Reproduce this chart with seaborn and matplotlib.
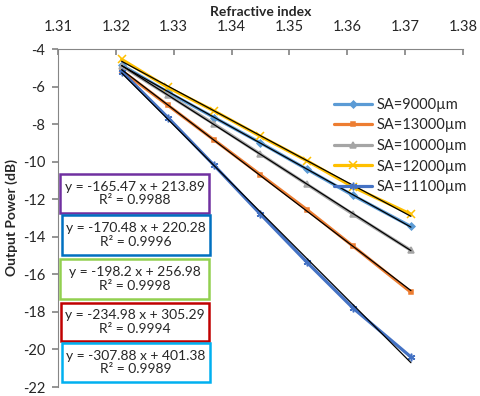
import numpy as np
import pandas as pd
import seaborn as sns
import matplotlib.pyplot as plt
from matplotlib.patches import Rectangle

# refractive index of the samples
ri = [1.321, 1.329, 1.337, 1.345, 1.353, 1.361, 1.371]

# output power (dB) per sensing area
sa_9000 = [-4.85, -6.3, -7.65, -9.0, -10.4, -11.8, -13.45]
sa_13000 = [-5.15, -7.0, -8.85, -10.7, -12.55, -14.5, -16.95]
sa_10000 = [-4.9, -6.45, -8.0, -9.6, -11.2, -12.8, -14.72]
sa_12000 = [-4.55, -6.05, -7.3, -8.65, -9.95, -11.35, -12.8]
sa_11100 = [-5.2, -7.65, -10.2, -12.8, -15.35, -17.8, -20.4]

labels = ["SA=9000µm", "SA=13000µm", "SA=10000µm", "SA=12000µm", "SA=11100µm"]
series = [sa_9000, sa_13000, sa_10000, sa_12000, sa_11100]
colors = ["#5B9BD5", "#ED7D31", "#A5A5A5", "#FFC000", "#4472C4"]
markers = ["D", "s", "^", "x", (6, 2, 0)]
msizes = [3.5, 3.5, 4.5, 6, 5.5]

# trendline labels as printed in the chart
eq_text = ["y = -165.47 x + 213.89\nR² = 0.9988",
           "y = -170.48 x + 220.28\nR² = 0.9996",
           "y = -198.2 x + 256.98\nR² = 0.9998",
           "y = -234.98 x + 305.29\nR² = 0.9994",
           "y = -307.88 x + 401.38\nR² = 0.9989"]
eq_colors = ["#7030A0", "#0070C0", "#92D050", "#C00000", "#00B0F0"]
# box extents in pixels from the top-left corner (x0, x1, y0, y1)
eq_boxes = [(60, 209, 174, 213), (62, 210, 215, 255), (60, 209, 259, 299),
            (61, 209, 303, 341), (62, 210, 343, 382)]

df = pd.DataFrame({"ri": np.tile(ri, len(labels)),
                   "power": np.concatenate(series),
                   "sa": np.repeat(labels, len(ri))})

sns.set_theme(style="white")
plt.rcParams["font.family"] = ["Lato", "DejaVu Sans"]
plt.rcParams["axes.unicode_minus"] = False

W, H = 480, 396
fig = plt.figure(figsize=(W / 100, H / 100), dpi=100)
ax = fig.add_axes([58 / W, 1 - 387 / H, (463 - 58) / W, (387 - 49) / H])

for lab, c, m, ms in zip(labels, colors, markers, msizes):
    sub = df[df["sa"] == lab]
    sns.lineplot(data=sub, x="ri", y="power", color=c, marker=m, markersize=ms,
                 markeredgecolor=c, markeredgewidth=1.1, linewidth=2.3,
                 label=lab, ax=ax, sort=False)

for lab in labels:
    sub = df[df["sa"] == lab]
    sns.regplot(data=sub, x="ri", y="power", scatter=False, ci=None,
                color="black", line_kws={"linewidth": 0.9}, ax=ax)

ax.set_xlim(1.31, 1.38)
ax.set_ylim(-22, -4)
ax.set_xticks(np.arange(1.31, 1.3801, 0.01))
ax.set_xticklabels([f"{v:.2f}" for v in np.arange(1.31, 1.3801, 0.01)])
ax.set_yticks(np.arange(-22, -3, 2))
ax.xaxis.tick_top()
ax.xaxis.set_label_position("top")
ax.set_xlabel("Refractive index", fontsize=10, fontweight="bold", labelpad=3)
ax.set_ylabel("Output Power (dB)", fontsize=10, fontweight="bold", labelpad=4)
ax.tick_params(axis="x", direction="in", length=4, labelsize=10.5, pad=11,
               color="#868686", top=True)
ax.tick_params(axis="y", direction="out", length=4, labelsize=10.5, pad=5,
               color="#868686", left=True)
for s in ["right", "bottom"]:
    ax.spines[s].set_visible(False)
for s in ["left", "top"]:
    ax.spines[s].set_color("#868686")
    ax.spines[s].set_linewidth(0.8)

leg = ax.legend(loc="upper left", bbox_to_anchor=((328 - 58) / 405, 1 - (92 - 49) / 338),
                frameon=False, fontsize=10.5, handlelength=2.6, labelspacing=0.45,
                handletextpad=0.3, borderaxespad=0)

for txt, ec, (x0, x1, y0, y1) in zip(eq_text, eq_colors, eq_boxes):
    fig.add_artist(Rectangle((x0 / W, 1 - y1 / H), (x1 - x0) / W, (y1 - y0) / H,
                             transform=fig.transFigure, facecolor="white",
                             edgecolor=ec, linewidth=1.8, zorder=5))
    fig.text((x0 + x1) / 2 / W, 1 - (y0 + y1) / 2 / H, txt, ha="center",
             va="center", fontsize=10, linespacing=1.15, zorder=6)

fig.savefig("out.png", dpi=100)
